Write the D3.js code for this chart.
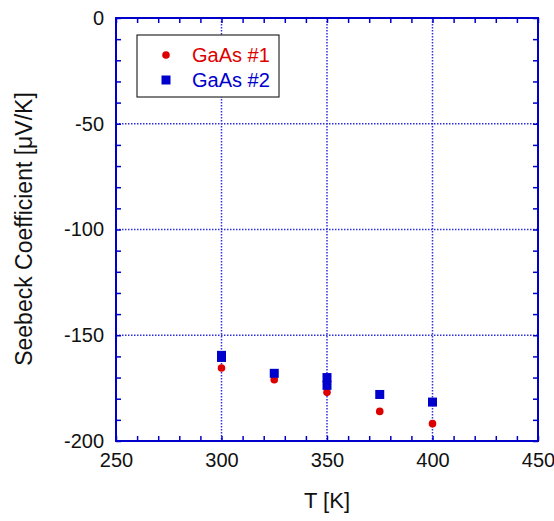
<!DOCTYPE html>
<html>
<head>
<meta charset="utf-8">
<script src="https://cdn.jsdelivr.net/npm/d3@7"></script>
<style>
body { margin: 0; background: #fff; }
text { font-family: "Liberation Sans", Arial, sans-serif; }
</style>
</head>
<body>
<script>
// sample 1 and sample 2 readings
var t1 = [300, 325, 350, 375, 400];
var s1 = [-165.5, -171, -177, -186, -191.8];
var t2 = [300, 300, 325, 350, 350, 375, 400];
var s2 = [-159.5, -160.5, -168, -170, -173.7, -178, -181.6];
var xTicks = [250, 300, 350, 400, 450];
var yTicks = [0, -50, -100, -150, -200];

var w = 554, h = 521;
var pl = 116, pr = 538, pt = 18, pb = 441;

var svg = d3.select("body").append("svg")
    .attr("width", w)
    .attr("height", h);

var x = d3.scaleLinear().domain([250, 450]).range([pl, pr]);
var y = d3.scaleLinear().domain([-200, 0]).range([pb, pt]);

var blue = "#0000cc";

// grid
svg.selectAll(".gx")
    .data(xTicks.slice(1, -1))
    .enter().append("line")
    .attr("x1", function(d){ return x(d); })
    .attr("x2", function(d){ return x(d); })
    .attr("y1", pt).attr("y2", pb)
    .style("stroke", "#3030dd")
    .style("stroke-width", 1.5)
    .style("stroke-dasharray", "1.5,1.5");

svg.selectAll(".gy")
    .data(yTicks.slice(1, -1))
    .enter().append("line")
    .attr("y1", function(d){ return y(d); })
    .attr("y2", function(d){ return y(d); })
    .attr("x1", pl).attr("x2", pr)
    .style("stroke", "#3030dd")
    .style("stroke-width", 1.5)
    .style("stroke-dasharray", "1.5,1.5");

// axes with inner ticks on all four sides
var minorX = d3.range(250, 451, 10);
var minorY = d3.range(-200, 1, 10);

function axisStyle(g) {
    g.select(".domain").remove();
    g.selectAll("line").style("stroke", blue).style("stroke-width", 1.5);
    g.selectAll("text").style("font-size", "20px").style("fill", "#111");
}

svg.append("g")
    .attr("transform", "translate(0," + pb + ")")
    .call(d3.axisBottom(x).tickValues(minorX).tickSize(-5).tickFormat(function(d){
        return xTicks.indexOf(d) >= 0 ? d : "";
    }).tickPadding(12))
    .call(axisStyle);

svg.append("g")
    .attr("transform", "translate(0," + pt + ")")
    .call(d3.axisTop(x).tickValues(minorX).tickSize(-5).tickFormat(""))
    .call(axisStyle);

svg.append("g")
    .attr("transform", "translate(" + pl + ",0)")
    .call(d3.axisLeft(y).tickValues(minorY).tickSize(-5).tickFormat(function(d){
        return yTicks.indexOf(d) >= 0 ? d : "";
    }).tickPadding(12))
    .call(axisStyle);

svg.append("g")
    .attr("transform", "translate(" + pr + ",0)")
    .call(d3.axisRight(y).tickValues(minorY).tickSize(-5).tickFormat(""))
    .call(axisStyle);

// y tick labels use plain hyphen like the original
svg.selectAll("text").each(function(){
    var s = d3.select(this).text();
    d3.select(this).text(s.replace("\u2212", "-"));
});

// frame
svg.append("rect")
    .attr("x", pl).attr("y", pt)
    .attr("width", pr - pl).attr("height", pb - pt)
    .style("fill", "none")
    .style("stroke", blue)
    .style("stroke-width", 2);

// points
svg.selectAll(".p1")
    .data(t1)
    .enter().append("circle")
    .attr("cx", function(d){ return x(d); })
    .attr("cy", function(d, i){ return y(s1[i]); })
    .attr("r", 3.8)
    .style("fill", "#dd0000");

var sq = 9;
svg.selectAll(".p2")
    .data(t2)
    .enter().append("rect")
    .attr("x", function(d){ return x(d) - sq / 2; })
    .attr("y", function(d, i){ return y(s2[i]) - sq / 2; })
    .attr("width", sq).attr("height", sq)
    .style("fill", blue);

// legend
var lg = svg.append("g");
lg.append("rect")
    .attr("x", 137).attr("y", 35)
    .attr("width", 142).attr("height", 62)
    .style("fill", "#fff")
    .style("stroke", "#000")
    .style("stroke-width", 1);
lg.append("circle").attr("cx", 166).attr("cy", 55).attr("r", 3.8).style("fill", "#dd0000");
lg.append("rect").attr("x", 166 - sq / 2).attr("y", 80 - sq / 2).attr("width", sq).attr("height", sq).style("fill", blue);
lg.append("text").attr("x", 192).attr("y", 62).text("GaAs #1")
    .style("font-size", "20px").style("fill", "#dd0000");
lg.append("text").attr("x", 192).attr("y", 87).text("GaAs #2")
    .style("font-size", "20px").style("fill", blue);

// axis titles
svg.append("text")
    .attr("x", (pl + pr) / 2)
    .attr("y", 508)
    .attr("text-anchor", "middle")
    .style("font-size", "22px")
    .style("fill", "#111")
    .text("T [K]");

svg.append("text")
    .attr("transform", "translate(32,229) rotate(-90)")
    .attr("text-anchor", "middle")
    .style("font-size", "23px")
    .style("fill", "#111")
    .text("Seebeck Coefficient [\u03bcV/K]");
</script>
</body>
</html>
